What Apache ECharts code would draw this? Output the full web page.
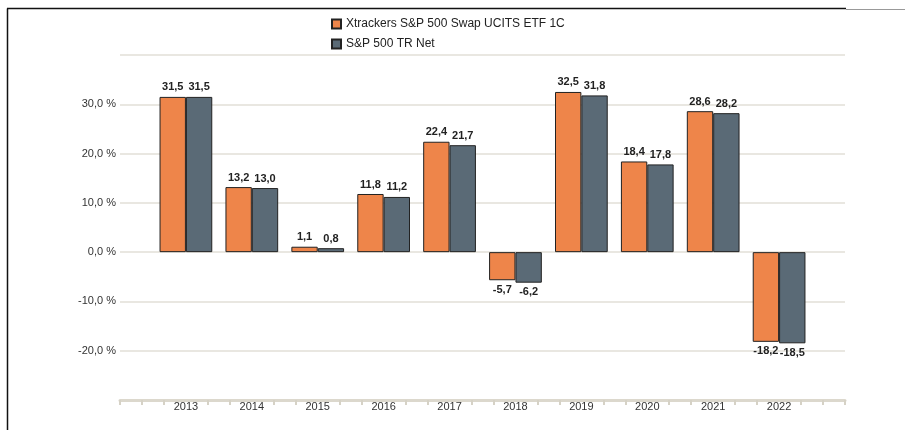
<!DOCTYPE html>
<html>
<head>
<meta charset="utf-8">
<script src="https://cdn.jsdelivr.net/npm/echarts@6/dist/echarts.min.js"></script>
<style>
  html, body { margin: 0; padding: 0; background: #fff; }
  #chart { width: 905px; height: 430px; }
</style>
</head>
<body>
<div id="chart"></div>
<script>
// Calendar-year performance, in percent
const years = ['2013', '2014', '2015', '2016', '2017', '2018', '2019', '2020', '2021', '2022'];
const fundName = 'Xtrackers S&P 500 Swap UCITS ETF 1C';
const indexName = 'S&P 500 TR Net';
const fundValues = [31.5, 13.2, 1.1, 11.8, 22.4, -5.7, 32.5, 18.4, 28.6, -18.2];
const indexValues = [31.5, 13.0, 0.8, 11.2, 21.7, -6.2, 31.8, 17.8, 28.2, -18.5];
const yTicks = [-30, -20, -10, 0, 10, 20, 30, 40];

const FONT = '"Liberation Sans", Arial, Helvetica, sans-serif';
const fmt = v => v.toFixed(1).replace('.', ',');

// category axis padded with an empty slot on each side
const cats = [''].concat(years, ['']);
// fine tick axis: three ticks per category slot
const tickCats = Array.from({ length: (cats.length - 1) * 3 + 1 }, () => '');

function barData(values) {
  const items = values.map(v => ({
    value: v,
    label: { position: v < 0 ? 'bottom' : 'top' }
  }));
  return [null].concat(items, [null]);
}

const chart = echarts.init(document.getElementById('chart'), null, { renderer: 'canvas' });

const barLabel = {
  show: true,
  distance: 4,
  color: '#222',
  fontFamily: FONT,
  fontSize: 11,
  fontWeight: 'bold',
  formatter: p => fmt(p.value)
};

chart.setOption({
  animation: false,
  textStyle: { fontFamily: FONT },
  legend: {
    orient: 'vertical',
    left: 326,
    top: 13,
    itemWidth: 9,
    itemHeight: 9,
    itemGap: 8,
    icon: 'rect',
    textStyle: { fontFamily: FONT, fontSize: 12, color: '#222' },
    data: [fundName, indexName]
  },
  grid: { left: 120, right: 60, top: 55, bottom: 30, containLabel: false },
  xAxis: [
    {
      type: 'category',
      data: cats,
      boundaryGap: false,
      axisLine: { show: true, onZero: false, lineStyle: { color: '#dcd8cd', width: 3 } },
      axisTick: { show: false },
      axisLabel: { color: '#333', fontFamily: FONT, fontSize: 11, margin: 1, interval: 0 },
      splitLine: { show: false }
    },
    {
      type: 'category',
      data: tickCats,
      boundaryGap: false,
      position: 'bottom',
      axisLine: { show: false, onZero: false },
      axisTick: {
        show: true,
        length: 5,
        interval: (i) => i % 3 !== 0 || i === 0 || i === tickCats.length - 1,
        lineStyle: { color: '#d6d2c6', width: 2 }
      },
      axisLabel: { show: false },
      splitLine: { show: false }
    }
  ],
  yAxis: {
    type: 'value',
    min: yTicks[0],
    max: yTicks[yTicks.length - 1],
    interval: 10,
    axisLine: { show: false },
    axisTick: { show: false },
    axisLabel: {
      color: '#333',
      fontFamily: FONT,
      fontSize: 11,
      margin: 4,
      formatter: v => (v === yTicks[0] || v === yTicks[yTicks.length - 1]) ? '' : fmt(v) + ' %'
    },
    splitLine: { show: true, lineStyle: { color: '#e2dfd7', width: 1.5 } }
  },
  series: [
    {
      name: fundName,
      type: 'bar',
      data: barData(fundValues),
      barGap: '0%',
      barCategoryGap: '20%',
      itemStyle: { color: '#ee854a', borderColor: '#222', borderWidth: 1 },
      label: barLabel
    },
    {
      name: indexName,
      type: 'bar',
      data: barData(indexValues),
      barGap: '0%',
      barCategoryGap: '20%',
      itemStyle: { color: '#5a6a76', borderColor: '#222', borderWidth: 1 },
      label: barLabel
    }
  ],
  graphic: [
    { type: 'line', shape: { x1: 7.5, y1: 8.5, x2: 7.5, y2: 430 }, style: { stroke: '#111', lineWidth: 1.5 }, silent: true },
    { type: 'line', shape: { x1: 7, y1: 8.5, x2: 846, y2: 8.5 }, style: { stroke: '#111', lineWidth: 1.5 }, silent: true },
    { type: 'line', shape: { x1: 846, y1: 9.5, x2: 905, y2: 9.5 }, style: { stroke: '#999', lineWidth: 1 }, silent: true }
  ]
});
</script>
</body>
</html>
